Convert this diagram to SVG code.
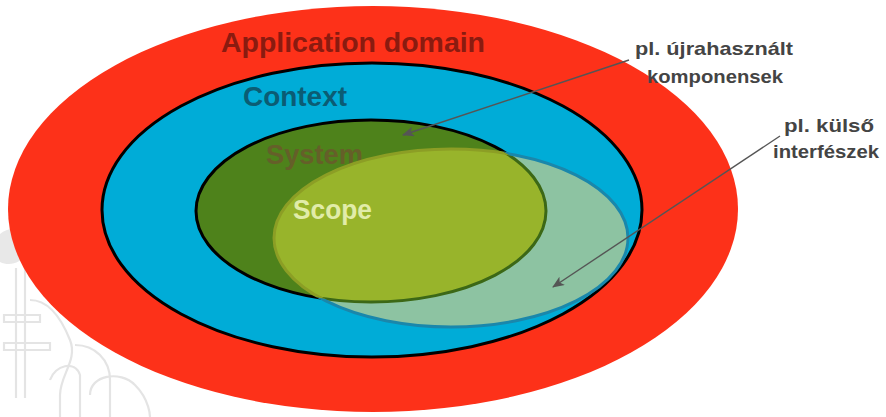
<svg xmlns="http://www.w3.org/2000/svg" width="886" height="417" viewBox="0 0 886 417">
<style>
.big{font-family:"Liberation Sans",Arial,sans-serif;font-weight:bold;font-size:28px}
.lbl{font-family:"Liberation Sans",Arial,sans-serif;font-weight:bold;font-size:19px;fill:#444;text-anchor:middle}
.wm{fill:none;stroke:#e4e4e4;stroke-width:2.2}
.conn{stroke:#555;stroke-width:1.4;fill:none;marker-end:url(#ah)}
</style>
<defs>
<marker id="ah" viewBox="0 0 12 10" refX="11" refY="5" markerWidth="12" markerHeight="10" markerUnits="userSpaceOnUse" orient="auto">
<path d="M0,0 L12,5 L0,10 L3,5 z" fill="#555"/>
</marker>
<clipPath id="cpSys"><ellipse cx="371" cy="211" rx="175" ry="91"/></clipPath>
<clipPath id="cpScope"><ellipse cx="451" cy="238" rx="177" ry="89"/></clipPath>
<mask id="mOutSys"><rect width="886" height="417" fill="#fff"/><ellipse cx="371" cy="211" rx="175" ry="91" fill="#000"/></mask>
</defs>
<g id="watermark">
<path d="M0,234 C12,224 28,230 28,246 C28,260 12,268 0,262 Z" fill="#e8e8e8"/>
<path class="wm" d="M16,268 L16,398 M25,268 L25,398"/>
<path class="wm" d="M4,315 L40,315 L40,322 L4,322 Z M4,343 L50,343 L50,350 L4,350 Z"/>
<path class="wm" d="M30,300 C50,300 62,320 70,340 C78,360 60,375 60,395 L60,417"/>
<path class="wm" d="M75,345 C95,345 110,360 110,380 L110,417 M90,395 C90,375 120,370 135,385 C150,400 150,417 150,417"/>
<path class="wm" d="M50,380 C55,365 75,360 80,375 L80,417"/>
</g>
<g id="application-domain">
<ellipse cx="373" cy="209" rx="365" ry="203" fill="#fd3119"/>
<text class="big" x="221" y="52" fill="#8a1b10" textLength="264" lengthAdjust="spacingAndGlyphs">Application domain</text>
</g>
<g id="context">
<ellipse cx="372" cy="210" rx="270" ry="147" fill="#00acd7" stroke="#000" stroke-width="3"/>
<text class="big" x="243" y="106" fill="#0b5c74" textLength="104" lengthAdjust="spacingAndGlyphs">Context</text>
</g>
<g id="system">
<ellipse cx="371" cy="211" rx="175" ry="91" fill="#4e821b" stroke="#000" stroke-width="3"/>
<text class="big" x="266" y="164" fill="#655f29" textLength="97" lengthAdjust="spacingAndGlyphs">System</text>
</g>
<g id="scope">
<ellipse cx="451" cy="238" rx="177" ry="89" fill="#8dc3a2"/>
<ellipse cx="451" cy="238" rx="177" ry="89" fill="#98b42b" clip-path="url(#cpSys)"/>
<g clip-path="url(#cpScope)">
<ellipse cx="371" cy="211" rx="175" ry="91" fill="none" stroke="#3c6816" stroke-width="3"/>
<ellipse cx="372" cy="210" rx="270" ry="147" fill="none" stroke="#15708a" stroke-width="3"/>
</g>
<ellipse cx="451" cy="238" rx="177" ry="89" fill="none" stroke="#1a87ab" stroke-width="3" mask="url(#mOutSys)"/>
<ellipse cx="451" cy="238" rx="177" ry="89" fill="none" stroke="#8c9e25" stroke-width="3" clip-path="url(#cpSys)"/>
<text class="big" x="293" y="219" fill="#e1eca9" textLength="79" lengthAdjust="spacingAndGlyphs">Scope</text>
</g>
<g id="label-reuse">
<text class="lbl" x="714" y="55" textLength="158" lengthAdjust="spacingAndGlyphs">pl. újrahasznált</text>
<text class="lbl" x="715" y="83" textLength="136" lengthAdjust="spacingAndGlyphs">komponensek</text>
</g>
<g id="label-interfaces">
<text class="lbl" x="829" y="132" textLength="90" lengthAdjust="spacingAndGlyphs">pl. külső</text>
<text class="lbl" x="826" y="158" textLength="106" lengthAdjust="spacingAndGlyphs">interfészek</text>
</g>
<g id="connectors">
<line class="conn" x1="629" y1="60" x2="403" y2="135"/>
<line class="conn" x1="780" y1="136" x2="553" y2="287"/>
</g>
</svg>
